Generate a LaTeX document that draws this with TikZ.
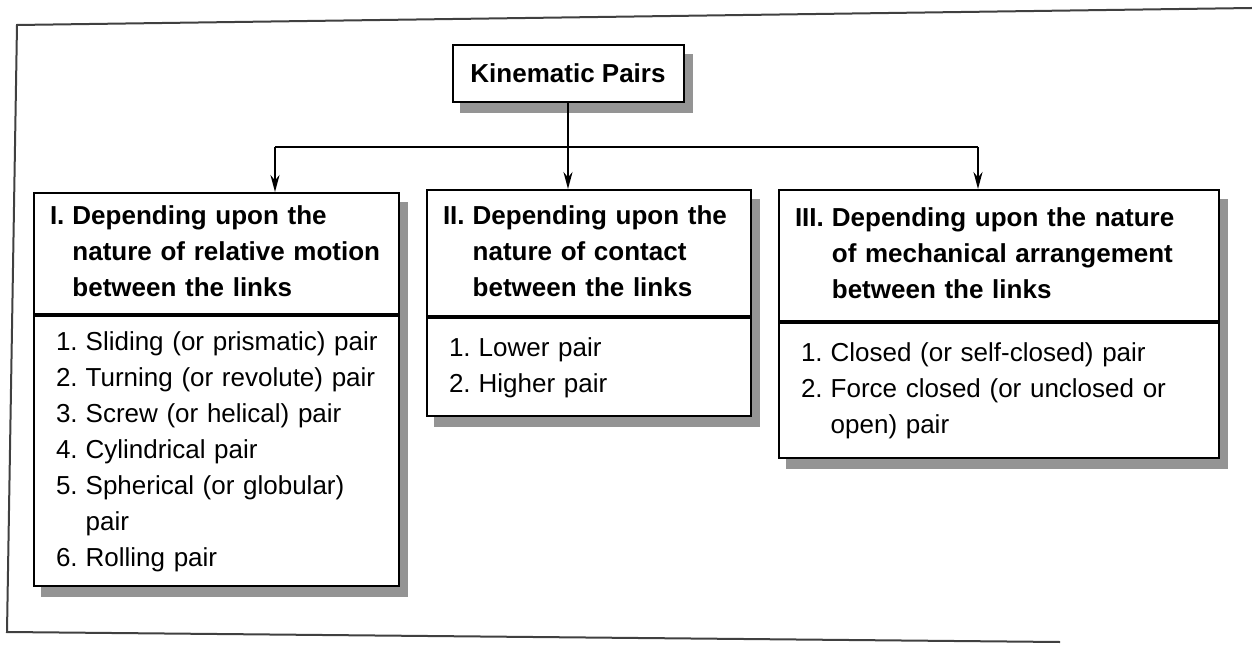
\documentclass[tikz,border=0pt]{standalone}
\usepackage{fontspec}
\setmainfont{Liberation Sans}
\usetikzlibrary{positioning,arrows.meta,backgrounds}
\tikzset{
  shd/.style={fill=black!70, opacity=0.6},
  ttl/.style={draw, line width=1pt, fill=white, minimum width=115.5pt, minimum height=28.5pt,
              inner sep=0pt, font=\fontsize{13}{18}\selectfont\bfseries},
  hd/.style={draw, line width=1pt, fill=white, anchor=north west, align=left,
             inner xsep=8pt, inner ysep=0pt, font=\fontsize{13}{18}\selectfont\bfseries},
  ls/.style={draw, line width=1pt, fill=white, align=left,
             inner xsep=11pt, inner ysep=0pt, font=\fontsize{13}{18}\selectfont},
  ln/.style={line width=0.8pt},
  arr/.style={line width=0.8pt, -{Stealth[length=3mm, width=1.6mm]}},
  frm/.style={line width=1pt, draw=black!75},
}
\newcommand{\hang}[1]{\begin{tabular}{@{}l@{\hspace{4pt}}l@{}}#1\end{tabular}}

\begin{document}
\begin{tikzpicture}[x=0.5pt, y=-0.5pt]
  \useasboundingbox (0,0) rectangle (1252,652);
  % page frame
  \draw[frm] (1252,8) -- (17,25) -- (7,632) -- (1060,642);

  \node[ttl] (title) at (568,73.5) {Kinematic Pairs};

  % headers
  \node[hd, text width=166.5pt, minimum height=60.5pt] (h1) at (33,192)
    {\hang{I. & Depending upon the\\ & nature of relative motion\\ & between the links}};
  \node[hd, text width=146pt, minimum height=63pt] (h2) at (426,189)
    {\hang{II. & Depending upon the\\ & nature of contact\\ & between the links}};
  \node[hd, text width=204pt, minimum height=65.5pt] (h3) at (778,189)
    {\hang{III. & Depending upon the nature\\ & of mechanical arrangement\\ & between the links}};

  % lists
  \node[ls, text width=160.5pt, minimum height=135pt, below=0pt of h1] (l1)
    {\hang{1. & Sliding (or prismatic) pair\\ 2. & Turning (or revolute) pair\\
      3. & Screw (or helical) pair\\ 4. & Cylindrical pair\\
      5. & Spherical (or globular)\\ & pair\\ 6. & Rolling pair}};
  \node[ls, text width=140pt, minimum height=49pt, below=0pt of h2] (l2)
    {\hang{1. & Lower pair\\ 2. & Higher pair}};
  \node[ls, text width=198pt, minimum height=67.5pt, below=0pt of h3] (l3)
    {\hang{1. & Closed (or self-closed) pair\\ 2. & Force closed (or unclosed or\\ & open) pair}};

  % shadows
  \begin{scope}[on background layer]
    \fill[shd] ([shift={(4pt,-5pt)}]title.north west) rectangle ([shift={(4pt,-5pt)}]title.south east);
    \foreach \i in {1,2,3}
      \fill[shd] ([shift={(4pt,-5pt)}]h\i.north west) rectangle ([shift={(4pt,-5pt)}]l\i.south east);
  \end{scope}

  % connectors
  \coordinate (bus) at (568,147);
  \coordinate (b1) at (275,147);
  \coordinate (b3) at (978,147);
  \draw[ln] (title) -- (bus);
  \draw[ln] (b1) -- (b3);
  \draw[arr] (b1) -- (b1 |- h1.north);
  \draw[arr] (bus) -- (bus |- h2.north);
  \draw[arr] (b3) -- (b3 |- h3.north);
\end{tikzpicture}
\end{document}
